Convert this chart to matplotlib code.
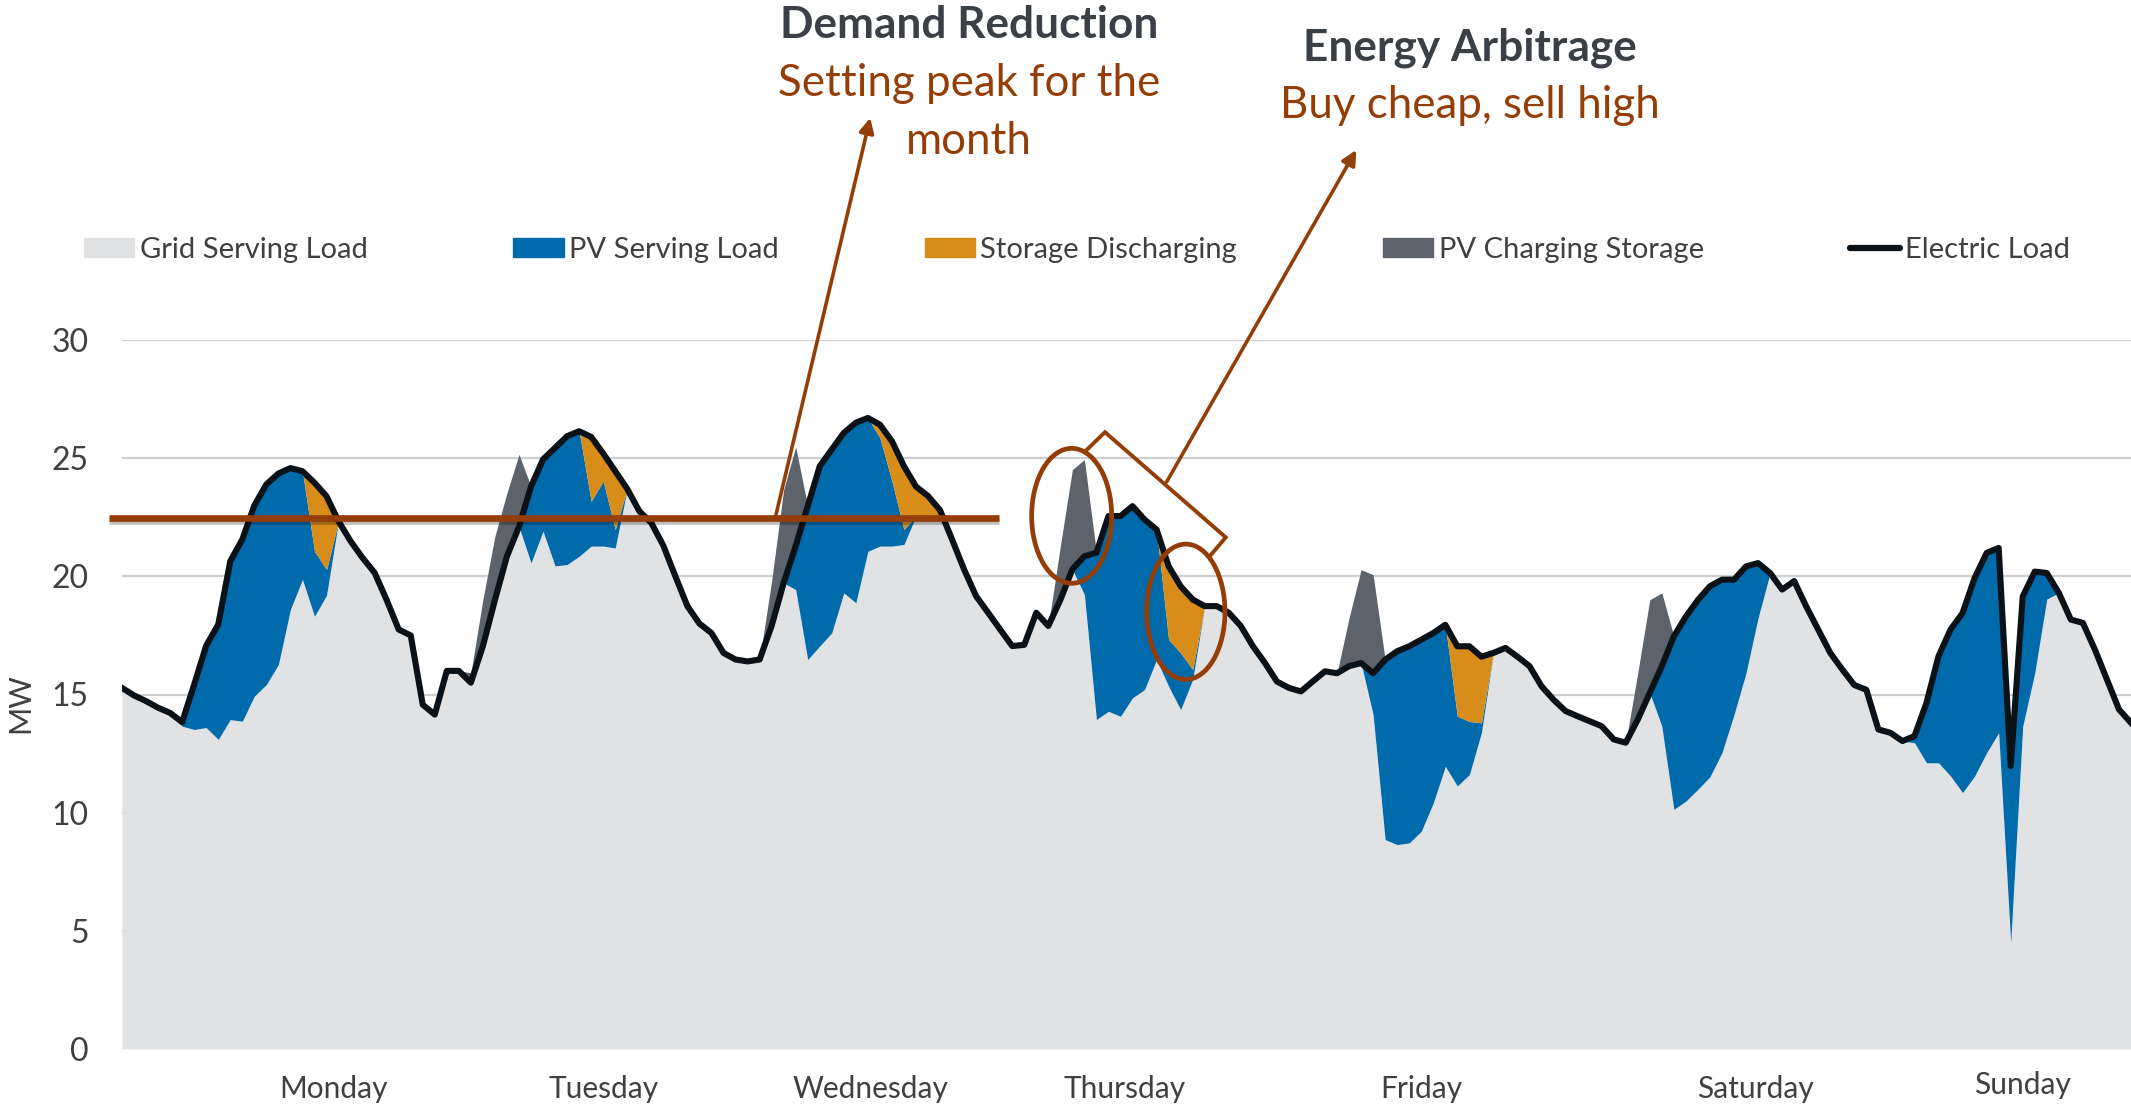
import numpy as np
import matplotlib.pyplot as plt
import matplotlib.patheffects as pe
import matplotlib.transforms as mtransforms
from matplotlib.patches import Ellipse
from matplotlib.lines import Line2D
from matplotlib.patches import Patch

plt.rcParams['font.family'] = ['Lato', 'DejaVu Sans']

# Hourly values for one week, Monday 00:00 .. Sunday 23:00, in MW
load = (
    [15.28, 14.96, 14.72, 14.44, 14.22, 13.83, 15.42, 17.07, 17.96, 20.64, 21.56, 23.00,
     23.89, 24.35, 24.58, 24.45, 23.96, 23.39, 22.33, 21.49, 20.78, 20.15, 19.00, 17.75]
    + [17.50, 14.57, 14.15, 16.00, 16.00, 15.50, 17.05, 19.00, 20.85, 22.10, 23.80, 24.95,
       25.44, 25.93, 26.14, 25.90, 25.20, 24.45, 23.70, 22.76, 22.26, 21.30, 20.00, 18.74]
    + [18.00, 17.60, 16.76, 16.48, 16.40, 16.48, 17.90, 19.72, 21.28, 22.97, 24.66, 25.37,
       26.07, 26.50, 26.70, 26.42, 25.72, 24.66, 23.80, 23.40, 22.80, 21.56, 20.29, 19.16]
    + [18.46, 17.75, 17.05, 17.10, 18.46, 17.90, 19.00, 20.30, 20.85, 21.00, 22.55, 22.55,
       22.97, 22.40, 21.98, 20.43, 19.58, 19.02, 18.74, 18.74, 18.46, 17.90, 17.05, 16.34]
    + [15.55, 15.28, 15.13, 15.56, 15.98, 15.90, 16.20, 16.33, 15.90, 16.47, 16.83, 17.04,
       17.32, 17.60, 17.95, 17.04, 17.04, 16.60, 16.76, 16.97, 16.60, 16.20, 15.35, 14.78]
    + [14.30, 14.08, 13.87, 13.66, 13.10, 12.96, 13.94, 15.07, 16.20, 17.46, 18.30, 19.00,
       19.58, 19.86, 19.86, 20.42, 20.56, 20.14, 19.44, 19.80, 18.73, 17.75, 16.76, 16.06]
    + [15.40, 15.20, 13.52, 13.38, 13.03, 13.24, 14.65, 16.62, 17.75, 18.45, 19.93, 20.99,
       21.20, 11.97, 19.15, 20.20, 20.14, 19.30, 18.17, 18.03, 16.90, 15.63, 14.37, 13.80]
)

pv_serving = (
    [0] * 5 + [0.17, 1.90, 3.47, 4.86, 6.70, 7.69, 8.07, 8.47, 8.08, 5.98, 4.58, 2.75, 1.09] + [0] * 6
    + [0] * 10 + [3.23, 3.04, 5.00, 5.43, 5.29, 1.90, 2.75, 0.78] + [0] * 6
    + [0] * 8 + [1.84, 6.49, 7.61, 7.76, 6.77, 7.62, 5.64, 4.58, 2.75, 0.63] + [0] * 6
    + [0] * 8 + [1.62, 7.06, 8.26, 8.47, 8.11, 7.19, 5.50, 1.98, 2.40, 0.43] + [0] * 6
    + [0] * 8 + [1.75, 7.61, 8.18, 8.32, 8.11, 7.19, 5.99, 2.95, 2.25, 0.42] + [0] * 6
    + [0] * 8 + [2.54, 7.32, 7.81, 8.01, 8.06, 7.32, 5.71, 4.50, 2.32] + [0] * 7
    + [0] * 5 + [0.28, 2.54, 4.51, 6.20, 7.60, 8.38, 8.45, 7.82, 7.46, 5.49, 4.28, 1.10] + [0] * 7
)

storage_discharging = (
    [0] * 16 + [2.90, 3.10] + [0] * 6
    + [0] * 15 + [2.72, 1.17, 2.47] + [0] * 6
    + [0] * 15 + [0.56, 1.69, 2.68, 1.25, 0.85, 0.20] + [0] * 3
    + [0] * 15 + [3.10, 2.82, 2.96] + [0] * 6
    + [0] * 15 + [2.96, 3.18, 2.80] + [0] * 6
    + [0] * 24
    + [0] * 24
)

pv_charging = (
    [0] * 24
    + [0] * 5 + [0.42, 1.97, 2.70, 2.68, 3.06] + [0] * 14
    + [0] * 6 + [1.90, 3.95, 4.20] + [0] * 15
    + [0] * 6 + [2.28, 4.22, 4.09] + [0] * 15
    + [0] * 6 + [2.04, 3.95, 4.17] + [0] * 15
    + [0] * 6 + [1.98, 3.94, 3.10] + [0] * 15
    + [0] * 24
)

day_labels = ['Monday', 'Tuesday', 'Wednesday', 'Thursday', 'Friday', 'Saturday', 'Sunday']
day_label_pos = [17.6, 40.0, 62.2, 83.3, 108.0, 135.8, 158.0]
peak_target = 22.47

# colours
c_grid = '#E1E2E4'
c_pv = '#006AAB'
c_store = '#D88C1A'
c_charge = '#5C636A'
c_line = '#0A1117'
c_brown = '#943D07'
c_text = '#404040'
c_title = '#3B4047'

hours = np.arange(len(load))
load = np.array(load)
pv = np.array(pv_serving)
st = np.array(storage_discharging)
ch = np.array(pv_charging)
grid = load - pv - st

W, H = 2131, 1105
fig = plt.figure(figsize=(W / 100, H / 100), dpi=100)
ax = fig.add_axes([122 / W, 1 - 1049 / H, (W - 122) / W, (1049 - 340) / H])

ax.fill_between(hours, 0, grid, color=c_grid, lw=0, zorder=2)
ax.fill_between(hours, grid, grid + pv, color=c_pv, lw=0, zorder=2)
ax.fill_between(hours, grid + pv, load, color=c_store, lw=0, zorder=2)
ax.fill_between(hours, load, load + ch, color=c_charge, lw=0, zorder=2)
ax.plot(hours, load, color=c_line, lw=4.4, solid_joinstyle='round', zorder=3)

ax.set_xlim(0, 167)
ax.set_ylim(0, 30)
ax.set_yticks([0, 5, 10, 15, 20, 25, 30])
ax.grid(axis='y', color='#CDCFD2', lw=1.6, zorder=1)
ax.set_axisbelow(True)
for s in ax.spines.values():
    s.set_visible(False)
ax.tick_params(axis='y', length=0, pad=24, labelsize=23, labelcolor=c_text)
ax.set_xticks(day_label_pos)
ax.set_xticklabels(day_labels)
ax.tick_params(axis='x', length=0, pad=19, labelsize=21.5, labelcolor=c_text)
sun = ax.get_xticklabels()[-1]
sun.set_transform(sun.get_transform() + mtransforms.ScaledTranslation(0, 0.04, fig.dpi_scale_trans))

fig.text(20 / W, 1 - 703 / H, 'MW', rotation=90, ha='center', va='center',
         fontsize=22, color=c_text)

# legend
handles = [
    Patch(color=c_grid, label='Grid Serving Load'),
    Patch(color=c_pv, label='PV Serving Load'),
    Patch(color=c_store, label='Storage Discharging'),
    Patch(color=c_charge, label='PV Charging Storage'),
    Line2D([0], [0], color=c_line, lw=4.5, solid_capstyle='round', label='Electric Load'),
]
fig.legend(handles=handles, loc='center left', bbox_to_anchor=(84 / W, 1 - 250 / H),
           ncol=5, frameon=False, fontsize=21, handlelength=1.72, handleheight=0.62,
           handletextpad=0.19, columnspacing=5.0, borderpad=0, borderaxespad=0,
           labelcolor=c_text)

# demand reduction annotation
ax.plot([-1.08, 72.9], [peak_target, peak_target], color=c_brown, lw=4.8,
        clip_on=False, zorder=5, solid_capstyle='butt',
        path_effects=[pe.SimpleLineShadow(offset=(0, -2.5), alpha=0.25), pe.Normal()])
ax.annotate('', xy=(62.2, 39.4), xytext=(54.3, peak_target), annotation_clip=False,
            arrowprops=dict(arrowstyle='-|>', color=c_brown, lw=2.6, mutation_scale=22,
                            shrinkA=0, shrinkB=0), zorder=5)

# energy arbitrage annotation
for cx, cy, w, h in [(78.94, 22.56, 6.65, 5.71), (88.43, 18.5, 6.51, 5.73)]:
    ax.add_patch(Ellipse((cx, cy), w, h, fill=False, edgecolor=c_brown, lw=3.4,
                         clip_on=False, zorder=5))
ax.plot([80.19, 81.71, 91.75, 90.44], [25.35, 26.1, 21.65, 20.86], color=c_brown, lw=2.8,
        clip_on=False, zorder=5, solid_joinstyle='miter')
ax.annotate('', xy=(102.6, 38.04), xytext=(86.84, 24.0), annotation_clip=False,
            arrowprops=dict(arrowstyle='-|>', color=c_brown, lw=2.6, mutation_scale=22,
                            shrinkA=0, shrinkB=0), zorder=5)

fig.text(969 / W, 1 - 38 / H, 'Demand Reduction', ha='center', va='baseline',
         fontsize=31.8, fontweight='bold', color=c_title)
fig.text(969 / W, 1 - 96 / H, 'Setting peak for the', ha='center', va='baseline',
         fontsize=31.6, color=c_brown)
fig.text(969 / W, 1 - 154 / H, 'month', ha='center', va='baseline',
         fontsize=31.6, color=c_brown)
fig.text(1470 / W, 1 - 61 / H, 'Energy Arbitrage', ha='center', va='baseline',
         fontsize=31.8, fontweight='bold', color=c_title)
fig.text(1470 / W, 1 - 118 / H, 'Buy cheap, sell high', ha='center', va='baseline',
         fontsize=31.6, color=c_brown)

fig.savefig('out.png', dpi=100)
